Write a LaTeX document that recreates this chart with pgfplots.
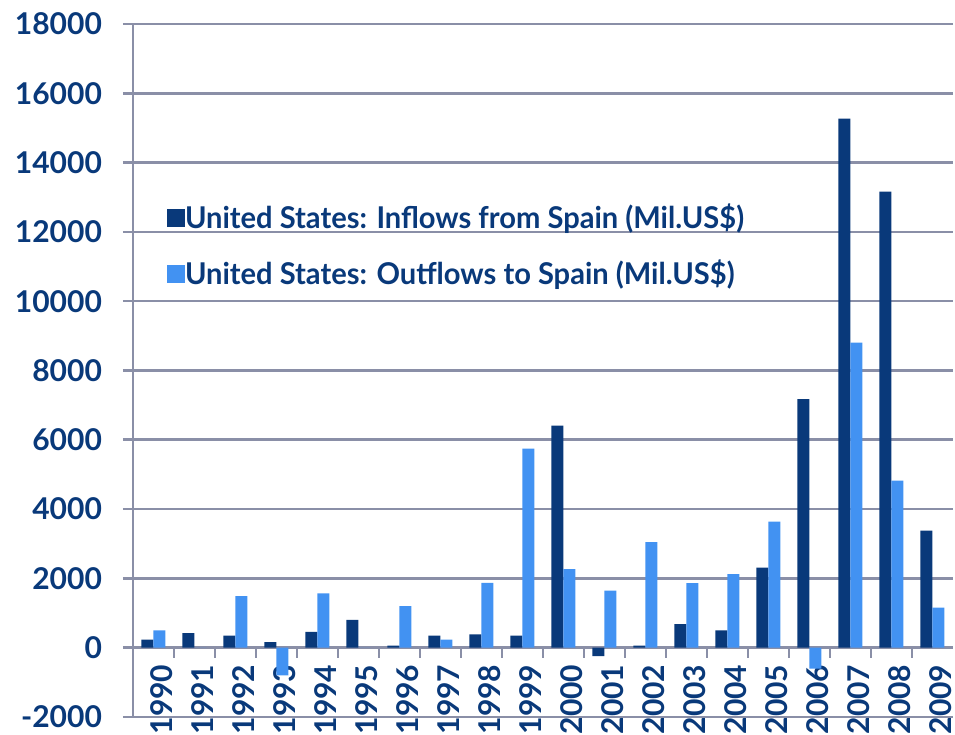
\documentclass[border=0pt]{standalone}
\usepackage{fontspec}
\setmainfont{Lato}
\usepackage{pgfplots}
\pgfplotsset{compat=1.18}
\definecolor{navy}{RGB}{9,57,122}
\definecolor{sky}{RGB}{66,146,242}
\definecolor{gridgray}{RGB}{138,143,167}

\begin{document}
\begin{tikzpicture}
\begin{axis}[
  at={(0,0)}, anchor=south west,
  scale only axis, width=410pt, height=346.5pt,
  xmin=-0.5, xmax=19.5, ymin=-2000, ymax=18000,
  axis y line*=left, axis x line*=middle,
  axis line style={gridgray, line width=1.3pt},
  ytick={-2000,0,...,18000},
  ymajorgrids, grid style={gridgray, line width=1.3pt},
  xtick={0,...,19},
  minor xtick={0.5,1.5,...,18.5},
  every major x tick/.append style={draw=none},
  xticklabels={1990,1991,1992,1993,1994,1995,1996,1997,1998,1999,
    2000,2001,2002,2003,2004,2005,2006,2007,2008,2009},
  tick align=outside, major tick length=5pt, minor tick length=5pt,
  tick style={gridgray, line width=1.3pt},
  ybar=0pt, bar width=6pt,
  tick label style={font=\fontsize{15}{18}\selectfont\bfseries, text=navy},
  /pgf/number format/assume math mode=true,
  scaled y ticks=false,
  yticklabel style={/pgf/number format/1000 sep={}, xshift=-7pt},
  xticklabel style={rotate=90, anchor=east, yshift=-4pt},
  legend style={draw=none, fill=none, inner sep=0pt,
    at={(axis description cs:0.041,0.737)}, anchor=north west,
    font=\fontsize{15}{18}\selectfont\bfseries, text=navy,
    row sep=13.5pt,
    nodes={inner sep=0pt, text height=11pt, text depth=3.5pt},
    /tikz/every even column/.append style={column sep=5.5pt}},
  legend cell align=left,
  legend image code/.code={\fill[#1] (0pt,-3pt) rectangle (9pt,6pt);},
]
% Inflows from Spain (Mil. US$)
\addplot[fill=navy, draw=none] coordinates {
  (0,230) (1,420) (2,350) (3,160) (4,460) (5,800) (6,60) (7,350) (8,385) (9,350)
  (10,6407) (11,-240) (12,60) (13,683) (14,500) (15,2309) (16,7177) (17,15267) (18,13160) (19,3377)
};
\addlegendentry{\scalebox{0.97}[1]{United States: Inflows from Spain (Mil.US\$)}}
% Outflows to Spain (Mil. US$)
\addplot[fill=sky, draw=none] coordinates {
  (0,500) (1,0) (2,1490) (3,-800) (4,1570) (5,0) (6,1200) (7,230) (8,1870) (9,5745)
  (10,2270) (11,1645) (12,3050) (13,1866) (14,2126) (15,3636) (16,-606) (17,8802) (18,4820) (19,1155)
};
\addlegendentry{\scalebox{0.97}[1]{United States: Outflows to Spain (Mil.US\$)}}
\end{axis}
\pgfresetboundingbox
\useasboundingbox (-66.5pt,-9pt) rectangle (411pt,358.5pt);
\end{tikzpicture}
\end{document}
